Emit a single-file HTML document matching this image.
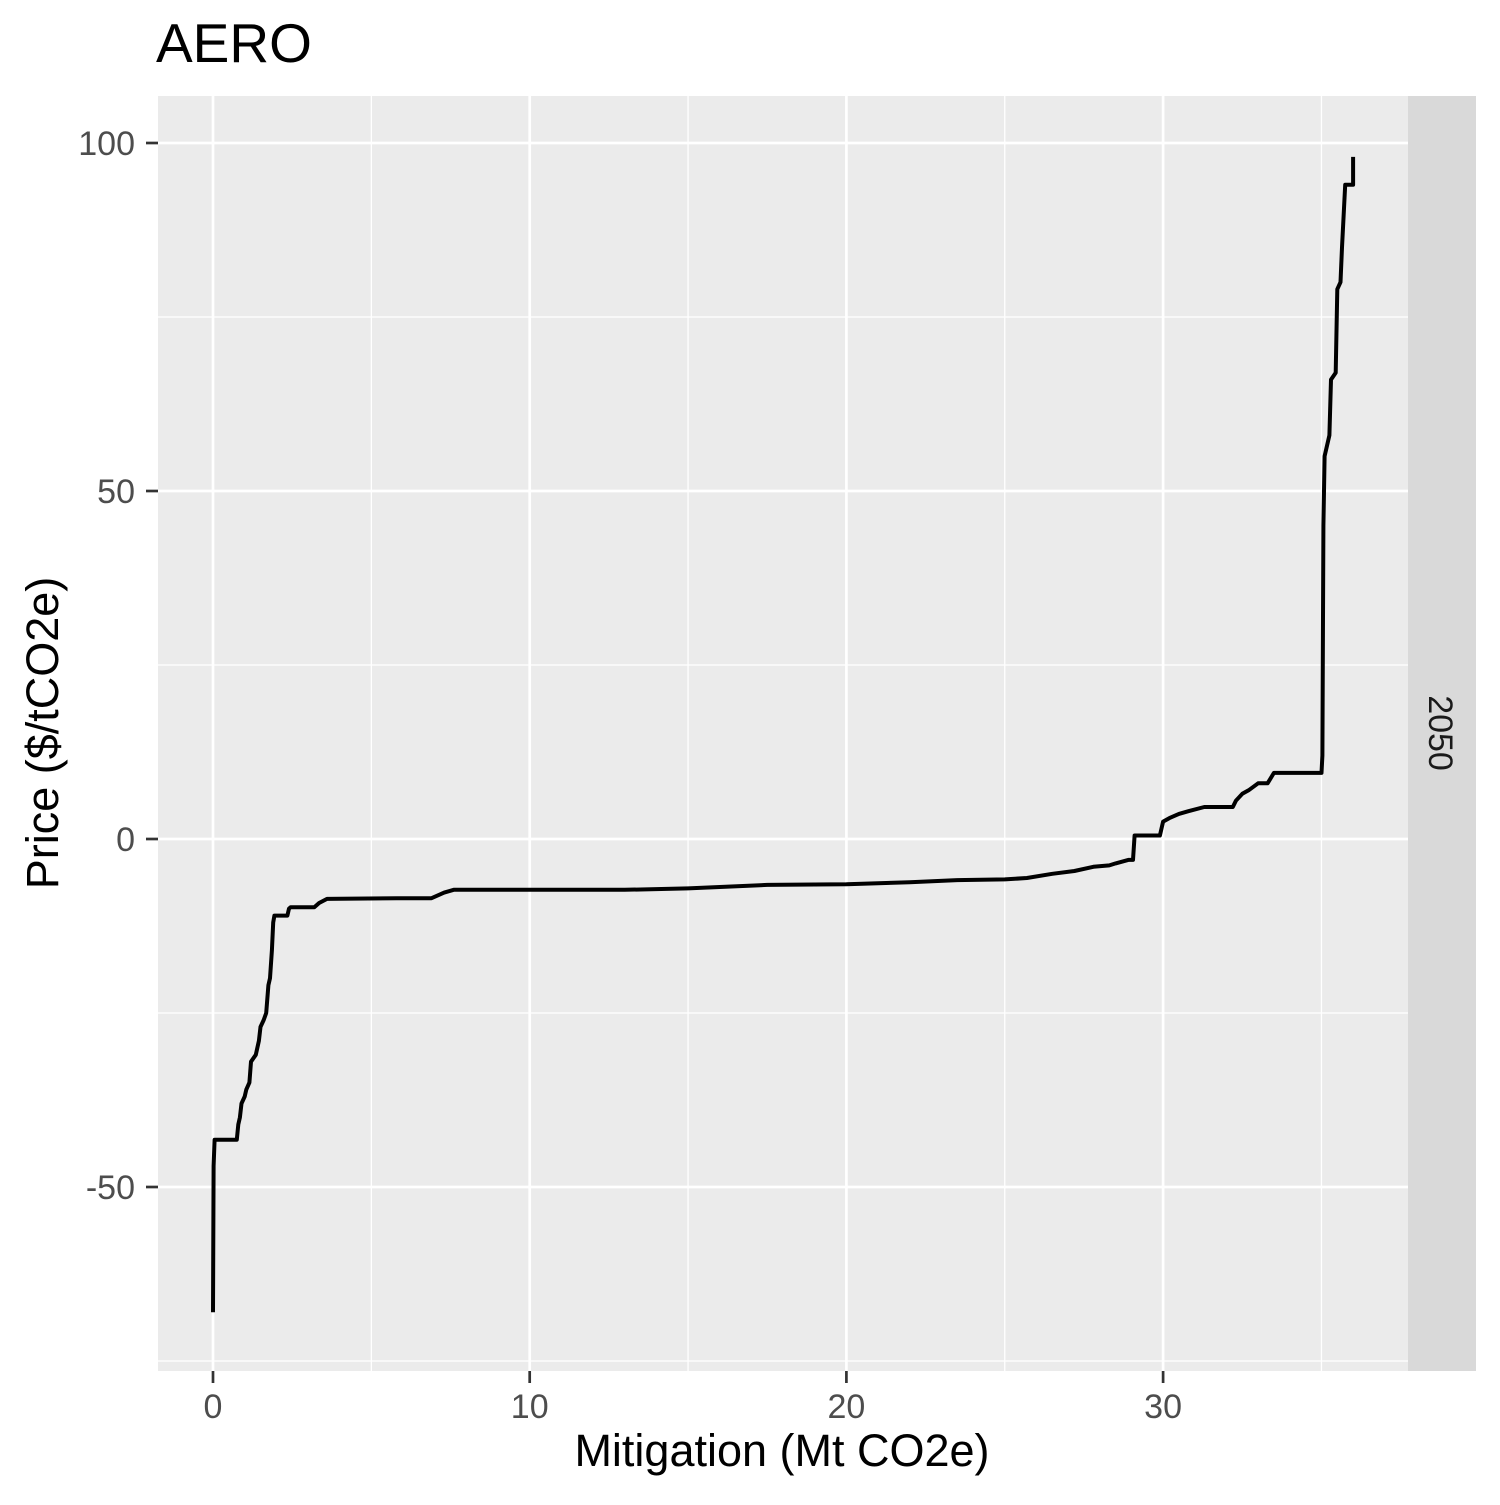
<!DOCTYPE html>
<html><head><meta charset="utf-8"><style>
body{margin:0;background:#fff;}
svg text{font-family:"Liberation Sans",Arial,sans-serif;}
</style></head><body>
<svg id="chart" width="1500" height="1500" xmlns="http://www.w3.org/2000/svg">
<rect width="1500" height="1500" fill="#fff"/>
<text x="156" y="62" font-size="55" fill="#000">AERO</text>
<rect x="158" y="96" width="1250" height="1275" fill="#ebebeb"/>
<g id="grid"></g>
<g id="series"></g>
<rect x="1408" y="96" width="68" height="1275" fill="#d9d9d9"/>
<text transform="translate(1429,733) rotate(90)" text-anchor="middle" font-size="34" fill="#1a1a1a">2050</text>
<g id="axes"></g>
<text x="782" y="1466" text-anchor="middle" font-size="45" fill="#000">Mitigation (Mt CO2e)</text>
<text transform="translate(58,733) rotate(-90)" text-anchor="middle" font-size="45" fill="#000">Price ($/tCO2e)</text>
</svg>
<script>
const xTicks=[0,10,20,30];
const xMinor=[5,15,25,35];
const yTicks=[-50,0,50,100];
const yMinor=[-75,-25,25,75];
const mitigation=[0,0.02,0.05,0.75,0.8,0.85,0.9,1.0,1.05,1.15,1.2,1.35,1.45,1.5,1.6,1.68,1.75,1.8,1.86,1.9,1.94,1.97,2.35,2.4,2.45,3.2,3.35,3.6,5.8,6.9,7.3,7.6,13,15,16,17.5,20,22,23.5,25,25.7,26.5,27.2,27.8,28.3,28.5,28.9,29.05,29.1,29.9,30.0,30.2,30.5,30.8,31.3,32.2,32.3,32.5,32.7,33.0,33.3,33.5,35.0,35.03,35.06,35.1,35.25,35.3,35.45,35.5,35.6,35.65,35.75,36.0,36.0];
const price=[-68,-47,-43.2,-43.2,-41,-40,-38,-37,-36,-35,-32,-31,-29,-27,-26,-25,-21,-20,-16,-12,-11,-11,-11,-10,-9.8,-9.8,-9.2,-8.6,-8.5,-8.5,-7.7,-7.3,-7.3,-7.1,-6.9,-6.6,-6.5,-6.2,-5.9,-5.8,-5.6,-5,-4.6,-4,-3.8,-3.5,-3,-3,0.5,0.5,2.5,3,3.6,4,4.6,4.6,5.5,6.5,7,8,8,9.5,9.5,12,45,55,58,66,67,79,80,85,94,94,98];
const X=v=>213+v*31.67, Y=v=>839-v*6.96;
const NS="http://www.w3.org/2000/svg";
function mk(tag,attrs,parent){const e=document.createElementNS(NS,tag);for(const k in attrs)e.setAttribute(k,attrs[k]);parent.appendChild(e);return e;}
const grid=document.getElementById('grid'),axes=document.getElementById('axes'),series=document.getElementById('series');
xMinor.forEach(v=>{const l=mk('line',{x1:X(v),x2:X(v),y1:96,y2:1371,stroke:'#fff','stroke-width':1.3},grid);

});
yMinor.forEach(v=>{const l=mk('line',{x1:158,x2:1408,y1:Y(v),y2:Y(v),stroke:'#fff','stroke-width':1.3},grid);

});
xTicks.forEach(v=>{const l=mk('line',{x1:X(v),x2:X(v),y1:96,y2:1371,stroke:'#fff','stroke-width':2.7},grid);


const t=mk('line',{x1:X(v),x2:X(v),y1:1371,y2:1383,stroke:'#333','stroke-width':2.7},axes);


const tx=mk('text',{x:X(v),y:1418,'text-anchor':'middle','font-size':34,fill:'#4d4d4d'},axes);tx.textContent=v;

});
yTicks.forEach(v=>{const l=mk('line',{x1:158,x2:1408,y1:Y(v),y2:Y(v),stroke:'#fff','stroke-width':2.7},grid);


const t=mk('line',{x1:146,x2:158,y1:Y(v),y2:Y(v),stroke:'#333','stroke-width':2.7},axes);


const tx=mk('text',{x:135,y:Y(v)+12,'text-anchor':'end','font-size':34,fill:'#4d4d4d'},axes);tx.textContent=v;

});
let d='';mitigation.forEach((m,i)=>{d+=(i?'L':'M')+X(m).toFixed(1)+' '+Y(price[i]).toFixed(1);});
const p=mk('path',{d:d,fill:'none',stroke:'#000','stroke-width':4,'stroke-linejoin':'round'},series);


</script>
</body></html>
